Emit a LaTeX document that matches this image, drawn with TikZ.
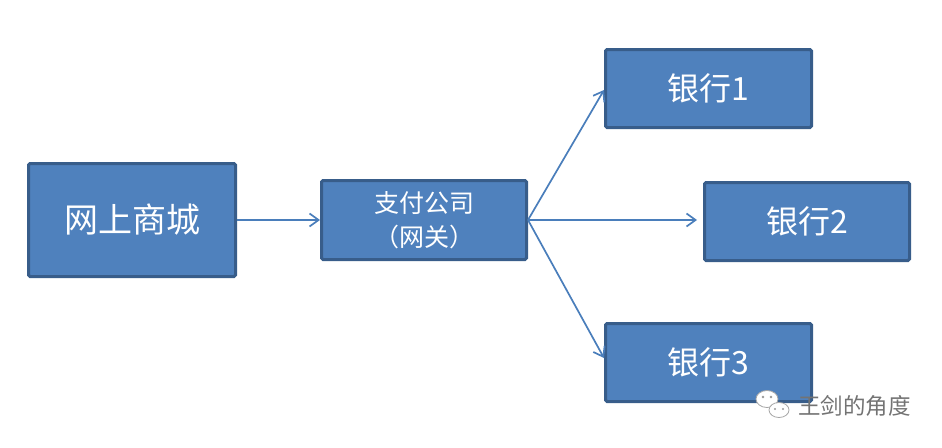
\documentclass[tikz,border=0pt]{standalone}
\usepackage{fontspec}
\newfontfamily\cjk{Noto Sans CJK SC}
\usepackage{tikz}
\usetikzlibrary{arrows.meta,positioning}
\usepackage{xcolor}
\definecolor{boxfill}{HTML}{4F81BD}
\definecolor{boxline}{HTML}{385D8A}
\definecolor{arrowline}{HTML}{4A7EBB}

\begin{document}
\begin{tikzpicture}[x=1pt,y=-1pt]
      \tikzstyle{block} = [rectangle, draw=boxline, line width=3pt, fill=boxfill, rounded corners=1.5pt, text=white, inner sep=0pt, align=center, font=\cjk]
      \tikzstyle{link} = [-{Straight Barb[length=9pt,width=13pt,line width=1.7pt]}, draw=arrowline, line width=1.7pt]

      \useasboundingbox (0,0) rectangle (942,447);

      \node[block, minimum width=207pt, minimum height=113pt, font=\cjk\fontsize{34}{40}\selectfont] (mall) at (132,220) {网上商城};
      \node[block, minimum width=205pt, minimum height=79pt, font=\cjk\fontsize{25}{34}\selectfont] (gw) at (424,220) {支付公司\\（网关）};
      \node[block, minimum width=206pt, minimum height=78pt, font=\cjk\fontsize{32}{36}\selectfont] (b1) at (708.5,88.5) {银行1};
      \node[block, minimum width=205pt, minimum height=78pt, font=\cjk\fontsize{32}{36}\selectfont] (b2) at (807,221.5) {银行2};
      \node[block, minimum width=206pt, minimum height=78pt, font=\cjk\fontsize{32}{36}\selectfont] (b3) at (708.5,362.5) {银行3};

      \draw[link] (mall.east) -- (gw.west);
      \draw[link] (gw.east) -- (b1.west |- 0,90);
      \draw[link, shorten >=6pt] (gw.east) -- (b2.west |- gw.east);
      \draw[link] (gw.east) -- (b3.west |- 0,358);

      % watermark
      \draw[gray!70, fill=white, line width=0.8pt] (767,399) ellipse (11 and 8.5);
      \draw[gray!70, fill=white, line width=0.8pt] (779,410) ellipse (10 and 7.5);
      \fill[gray!80] (763,397) circle (1.3) (771,397) circle (1.3) (775,409) circle (1.2) (783,409) circle (1.2);
      \node[text=gray!90!black, font=\cjk\fontsize{22.5}{26}\selectfont, anchor=west, inner sep=0pt] (mark) at (798,406) {王剑的角度};
    \end{tikzpicture}
\end{document}
